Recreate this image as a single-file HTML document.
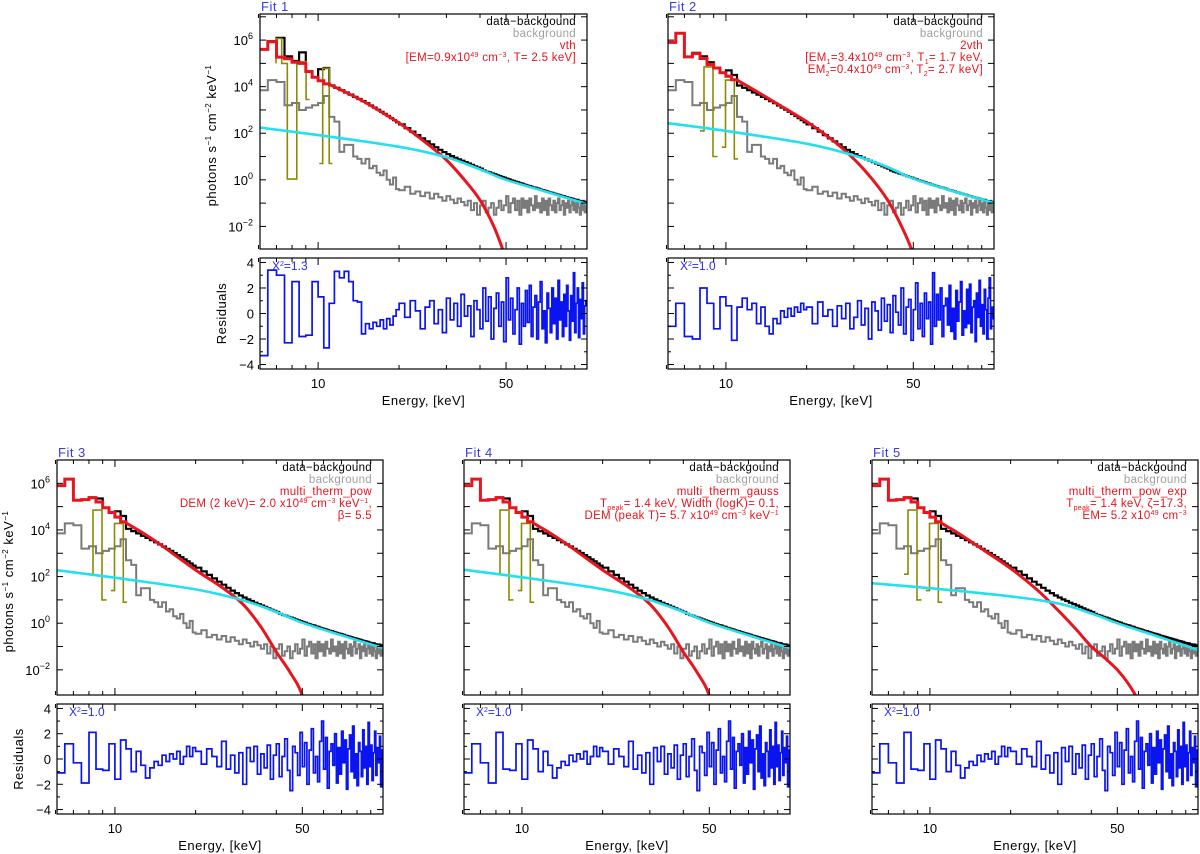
<!DOCTYPE html>
<html><head><meta charset="utf-8"><style>
html,body{margin:0;padding:0;background:#fff;}
svg{display:block;font-family:"Liberation Sans",sans-serif;}
</style></head><body>
<svg id="fig" width="1200" height="854" viewBox="0 0 1200 854" xmlns="http://www.w3.org/2000/svg"></svg>
<script>
// ---- shared energy bin edges (keV) ----
const edges = [6,6.5,7,7.5,8,8.5,9,9.5,10,10.5,11,11.5,12,12.5,13,13.5,14,14.5,15,15.5,16,16.5,17,17.5,18,18.5,19,19.5,20,
21,22,23,24,25,26,27,28,29,30,31,32,33,34,35,36,37,38,39,40,41,42,43,44,45,46,47,48,49,50,
51,52,53,54,55,56,57,58,59,60,61,62,63,64,65,66,67,68,69,70,71,72,73,74,75,76,77,78,79,80,
81,82,83,84,85,86,87,88,89,90,91,92,93,94,95,96,97,98,99,100];
// ---- data-background (log10) above 11 keV, shared ----
const dataHigh = [4.05,3.95,3.85,3.75,3.66,3.56,3.47,3.38,3.29,3.19,3.1,3.01,2.92,2.83,2.74,2.65,2.56,2.47,
2.38,2.22,2.07,1.92,1.78,1.65,1.52,1.4,1.29,1.19,1.1,1.02,0.95,0.88,0.82,0.76,0.7,0.64,0.58,0.53,0.48,
0.40,0.35,0.32,0.27,0.24,0.2,0.16,0.12,0.09,0.05,0.02,-0.02,-0.05,-0.08,-0.1,-0.14,-0.16,-0.2,-0.22,-0.25,
-0.27,-0.3,-0.33,-0.34,-0.37,-0.39,-0.42,-0.44,-0.46,-0.48,-0.5,-0.53,-0.55,-0.56,-0.59,-0.6,-0.63,-0.64,-0.66,-0.68,
-0.7,-0.71,-0.74,-0.75,-0.77,-0.78,-0.8,-0.81,-0.84,-0.85,-0.87,-0.86,-0.9,-0.91,-0.93,-0.92,-0.96,-0.95,-0.98];
// ---- background (log10), shared ----
const bgLog = [3.85,4.28,4.2,3.2,3.3,3.0,3.1,3.2,3.3,3.6,2.7,2.5,1.2,1.5,1.5,1.0,0.9,0.7,0.9,0.5,0.6,0.3,0.2,0.4,0.0,-0.2,0.1,-0.4,
-0.45,-0.3,-0.6,-0.5,-0.7,-0.55,-0.8,-0.6,-0.75,-0.9,-0.7,-0.85,-1.0,-0.8,-0.95,-1.1,-0.9,-1.3,-1.0,-1.5,
-1.1,-0.9,-1.4,-1.2,-1.0,-1.5,-1.2,-0.9,-1.3,-1.1,-0.7,-1.4,-1.0,-0.8,-1.3,-0.9,-1.5,-0.8,-1.2,-0.9,
-1.4,-0.8,-1.1,-1.3,-0.7,-1.2,-1.0,-1.4,-0.8,-1.3,-0.9,-1.5,-0.8,-1.1,-1.3,-0.9,-1.4,-1.0,-0.8,-1.3,
-1.1,-0.9,-1.5,-1.0,-1.2,-0.9,-1.4,-1.1,-0.8,-1.3,-1.0,-1.4,-0.9,-1.2,-1.5,-1.0,-1.3,-0.9,-1.4,-1.1];
// ---- low-energy (6-11 keV) steps per fit ----
const redLow1 = [5.6,5.93,5.27,5.2,5.05,5.0,4.65,4.4,4.25,4.12];
const dataLow1 = [5.6,5.95,6.1,5.3,5.1,5.47,4.65,4.4,4.75,4.8];
const redLow2 = [5.9,6.29,5.28,5.42,5.21,4.95,4.8,4.6,4.45,4.3];
const dataLow2 = [5.9,6.29,5.28,5.45,5.3,5.05,4.8,4.6,4.7,4.5];
const redLow3 = [5.9,6.18,5.27,5.3,5.38,5.2,4.95,4.75,4.55,4.35];
const dataLow3 = [5.9,6.18,5.27,5.3,5.4,5.35,4.95,4.75,4.8,4.6];
// ---- thermal model (red) continuum ----
const redE = [11,13,15,20,25,30,35,40,45,50,55,60];
const red1 = [4.1,3.7,3.32,2.44,1.62,0.85,0.0,-0.87,-2.0,-3.4,-5,-6];
const red2 = [4.28,3.8,3.37,2.5,1.7,0.9,0.05,-0.85,-1.95,-3.2,-5,-6];
const red3 = [4.3,3.8,3.32,2.28,1.55,0.82,-0.15,-1.23,-2.1,-3.1,-5,-6];
const red5 = [4.3,3.8,3.32,2.35,1.45,0.56,-0.25,-1.0,-1.5,-2.0,-2.6,-3.3];
// ---- non-thermal (cyan) ----
const cyanE = [6,10,20,30,40,50,70,100];
const cyan1 = [2.25,1.92,1.42,0.97,0.45,0.0,-0.5,-1.04];
const cyan2 = [2.44,2.1,1.55,1.05,0.55,0.05,-0.48,-1.0];
const cyan3 = [2.28,1.95,1.45,0.98,0.48,0.02,-0.52,-1.07];
const cyan4 = [2.3,1.97,1.46,0.99,0.48,0.02,-0.52,-1.07];
const cyan5 = [1.72,1.5,1.15,0.85,0.42,0.0,-0.55,-1.15];
// ---- line components (olive) [E, log10] ----
const olive1 = [[[6.97,5.0],[6.97,6.07],[7.32,6.07],[7.32,5.0],[7.68,5.0],[7.68,0.03],[8.33,0.03],[8.33,5.07],[9.02,5.07],[9.02,3.45],[9.3,3.45]],
                [[10.1,0.7],[10.4,0.7],[10.4,4.79],[11.0,4.79],[11.0,0.7],[11.3,0.7]]];
const oliveB = [[[8.0,2.1],[8.28,2.1],[8.28,4.85],[8.95,4.85],[8.95,1.0],[9.3,1.0]],
                [[9.65,1.4],[9.96,1.4],[9.96,4.28],[10.75,4.28],[10.75,0.9],[11.1,0.9]]];
// ---- residuals ----
const res1 = [-3.3,3.4,3.0,-2.3,2.5,-1.8,-1.7,2.5,1.3,-2.7,0.8,3.3,2.8,3.3,2.5,1.0,0.9,-1.6,-0.8,-1.2,-0.7,-1.0,-0.5,-1.2,-0.4,-0.9,-0.2,0.3,
0.8,-0.3,1.0,0.2,-1.2,0.5,1.0,-0.8,0.3,-1.5,1.2,-0.5,0.8,-1.0,1.5,-0.2,0.6,-1.8,1.0,0.3,
-1.2,2.0,-0.6,1.3,-2.0,0.4,1.6,-1.0,0.9,-2.2,2.8,-0.5,1.2,-1.6,0.3,2.0,-2.4,0.8,-1.0,1.8,
-0.7,2.2,-1.8,0.5,1.4,-2.0,0.9,2.5,-1.2,0.2,-2.3,1.6,0.4,-1.5,2.0,-0.8,1.2,-2.0,2.6,-0.5,
0.9,-1.8,1.5,-1.0,2.2,0.2,-2.1,1.4,-0.6,3.2,-1.5,0.8,2.0,-1.9,1.1,-0.4,2.4,-1.6,0.6,1.0];
const res2 = [-1.0,0.8,-1.8,-2.0,2.0,0.8,-1.2,1.3,0.6,-2.1,0.5,1.2,0.3,0.8,-0.8,0.5,-1.0,-1.6,-0.4,-0.8,0.2,-0.3,0.4,-0.2,0.5,0.1,0.8,0.3,
0.5,-0.8,0.9,-0.2,0.3,-1.0,0.6,-0.4,0.8,-1.2,-0.3,1.0,-0.9,0.4,-2.0,0.9,0.2,-1.3,1.2,-0.6,
0.7,-1.5,1.4,0.1,-0.9,2.0,-1.6,0.5,1.1,-2.1,0.3,2.4,-1.2,0.8,-1.8,1.6,-0.4,0.9,-2.4,3.2,
-1.0,1.5,-0.5,2.0,-1.8,0.6,1.2,-0.9,2.2,-1.4,0.4,-2.0,1.8,-0.6,0.9,2.5,-1.7,0.2,-1.1,1.9,
-0.8,2.3,-1.5,0.5,1.0,-2.2,1.6,-0.3,2.6,-1.0,0.7,-1.6,1.9,0.3,-2.0,1.2,2.8,-1.2,0.5,-0.4];
const res3 = [-1.1,1.2,-0.3,-1.9,2.1,-0.8,-0.9,1.2,-1.6,1.5,0.8,-1.0,0.6,-0.5,-1.5,-0.7,-0.2,-0.5,0.3,-0.2,0.4,0.0,0.6,-0.4,0.2,1.0,0.2,0.9,
0.6,-0.4,0.8,0.2,-0.6,1.4,-0.8,0.3,-1.1,0.5,-2.0,0.9,-0.2,1.0,-1.2,0.4,-0.7,1.1,-1.6,0.3,
1.2,-1.4,0.2,1.6,-0.9,-2.5,1.0,0.5,-1.3,2.1,-0.6,1.3,-2.0,0.7,2.4,-1.1,0.2,-1.8,1.4,3.0,
-0.8,1.7,-2.3,0.6,1.2,-0.5,2.0,-1.9,0.9,-1.2,2.2,-0.3,1.5,-2.4,0.8,1.9,-1.0,2.6,-1.5,0.4,
-2.1,1.3,0.6,-1.4,2.3,-0.7,1.0,-2.0,2.9,-0.6,1.1,-1.7,0.5,2.2,-1.3,0.9,-0.3,1.8,-2.2,0.7];
const chiLabels = ["1.3","1.0","1.0","1.0","1.0"];
const xTickMajor = [10,50];
const xTickMinor = [6,7,8,9,20,30,40,60,70,80,90];

const NS = "http://www.w3.org/2000/svg";
const svg = document.getElementById('fig');
function el(tag, attrs, parent){const e=document.createElementNS(NS,tag);for(const k in attrs)e.setAttribute(k,attrs[k]);(parent||svg).appendChild(e);return e;}

const panels = [
 {id:1,x0:260,x1:587,sy0:14,sy1:249,ry0:258,ry1:369,ymax:7.12,ymin:-2.97,lab:true,redLow:redLow1,dataLow:dataLow1,red:red1,cyan:cyan1,olive:olive1,res:res1,
  legend:[["data−backgound","#000"],["background","#a0a0a0"],["vth","#e8141e"],["[EM=0.9x10<tspan font-size='7' dy='-4'>49</tspan><tspan dy='4'> cm</tspan><tspan font-size='7' dy='-4'>−3</tspan><tspan dy='4'>, T= 2.5 keV]</tspan>","#e8141e"]]},
 {id:2,x0:668,x1:994,sy0:14,sy1:249,ry0:258,ry1:369,ymax:7.12,ymin:-2.97,lab:false,redLow:redLow2,dataLow:dataLow2,red:red2,cyan:cyan2,olive:oliveB,res:res2,
  legend:[["data−backgound","#000"],["background","#a0a0a0"],["2vth","#e8141e"],["[EM<tspan font-size='7' dy='3'>1</tspan><tspan dy='-3'>=3.4x10</tspan><tspan font-size='7' dy='-4'>49</tspan><tspan dy='4'> cm</tspan><tspan font-size='7' dy='-4'>−3</tspan><tspan dy='4'>, T</tspan><tspan font-size='7' dy='3'>1</tspan><tspan dy='-3'>= 1.7 keV,</tspan>","#e8141e"],["EM<tspan font-size='7' dy='3'>2</tspan><tspan dy='-3'>=0.4x10</tspan><tspan font-size='7' dy='-4'>49</tspan><tspan dy='4'> cm</tspan><tspan font-size='7' dy='-4'>−3</tspan><tspan dy='4'>, T</tspan><tspan font-size='7' dy='3'>2</tspan><tspan dy='-3'>= 2.7 keV]</tspan>","#e8141e"]]},
 {id:3,x0:57,x1:383,sy0:460,sy1:695,ry0:704,ry1:814,ymax:7.0,ymin:-3.08,lab:true,redLow:redLow3,dataLow:dataLow3,red:red3,cyan:cyan3,olive:oliveB,res:res3,
  legend:[["data−backgound","#000"],["background","#a0a0a0"],["multi_therm_pow","#e8141e"],["DEM (2 keV)= 2.0 x10<tspan font-size='7' dy='-4'>49</tspan><tspan dy='4'> cm</tspan><tspan font-size='7' dy='-4'>−3</tspan><tspan dy='4'> keV</tspan><tspan font-size='7' dy='-4'>−1</tspan><tspan dy='4'>,</tspan>","#e8141e"],["β= 5.5","#e8141e"]]},
 {id:4,x0:464,x1:790,sy0:460,sy1:695,ry0:704,ry1:814,ymax:7.0,ymin:-3.08,lab:false,redLow:redLow3,dataLow:dataLow3,red:red3,cyan:cyan4,olive:oliveB,res:res3,
  legend:[["data−backgound","#000"],["background","#a0a0a0"],["multi_therm_gauss","#e8141e"],["T<tspan font-size='7' dy='3'>peak</tspan><tspan dy='-3'>= 1.4 keV, Width (logK)= 0.1,</tspan>","#e8141e"],["DEM (peak T)=  5.7 x10<tspan font-size='7' dy='-4'>49</tspan><tspan dy='4'> cm</tspan><tspan font-size='7' dy='-4'>−3</tspan><tspan dy='4'>  keV</tspan><tspan font-size='7' dy='-4'>−1</tspan>","#e8141e"]]},
 {id:5,x0:872,x1:1198,sy0:460,sy1:695,ry0:704,ry1:814,ymax:7.0,ymin:-3.08,lab:false,redLow:redLow3,dataLow:dataLow3,red:red5,cyan:cyan5,olive:oliveB,res:res3,
  legend:[["data−backgound","#000"],["background","#a0a0a0"],["multi_therm_pow_exp","#e8141e"],["T<tspan font-size='7' dy='3'>peak</tspan><tspan dy='-3'>= 1.4 keV, ζ=17.3,</tspan>","#e8141e"],["EM=  5.2 x10<tspan font-size='7' dy='-4'>49</tspan><tspan dy='4'> cm</tspan><tspan font-size='7' dy='-4'>−3</tspan>","#e8141e"]]}
];
const LMIN = Math.log10(6.08), LMAX = 2.0, RMAX = 4.35, RMIN = -4.35;

// smooth curve through points (Catmull-Rom -> cubic Bezier)
function smooth(pts){
  let d = '';
  for (let i = 0; i < pts.length - 1; i++) {
    const p0 = pts[Math.max(0, i - 1)], p1 = pts[i], p2 = pts[i + 1], p3 = pts[Math.min(pts.length - 1, i + 2)];
    const c1 = [p1[0] + (p2[0] - p0[0]) / 6, p1[1] + (p2[1] - p0[1]) / 6];
    const c2 = [p2[0] - (p3[0] - p1[0]) / 6, p2[1] - (p3[1] - p1[1]) / 6];
    d += 'C' + c1[0].toFixed(1) + ',' + c1[1].toFixed(1) + ' ' + c2[0].toFixed(1) + ',' + c2[1].toFixed(1) + ' ' + p2[0].toFixed(1) + ',' + p2[1].toFixed(1);
  }
  return d;
}

panels.forEach(p => {
  const g = el('g', {});
  
  
  const X = e => p.x0 + (Math.log10(e) - LMIN) / (LMAX - LMIN) * (p.x1 - p.x0);
  const Y = v => p.sy0 + (p.ymax - v) / (p.ymax - p.ymin) * (p.sy1 - p.sy0);
  const R = r => p.ry0 + (RMAX - r) / (RMAX - RMIN) * (p.ry1 - p.ry0);
  const defs = el('defs', {}, g);
  const cp = el('clipPath', {id: 'cs' + p.id}, defs);
  el('rect', {x: p.x0, y: p.sy0, width: p.x1 - p.x0, height: p.sy1 - p.sy0}, cp);
  const cr = el('clipPath', {id: 'cr' + p.id}, defs);
  el('rect', {x: p.x0, y: p.ry0, width: p.x1 - p.x0, height: p.ry1 - p.ry0}, cr);

  const step = (vals, yf) => {
    let d = 'M' + X(edges[0]).toFixed(1) + ',' + yf(vals[0]).toFixed(1);
    for (let i = 0; i < vals.length; i++) {
      if (i > 0) d += 'V' + yf(vals[i]).toFixed(1);
      d += 'H' + X(edges[i + 1]).toFixed(1);
    }
    return d;
  };
  const sg = el('g', {'clip-path': 'url(#cs' + p.id + ')'}, g);
  const bg = el('path', {d: step(bgLog, Y), fill: 'none', stroke: '#7a7a7a', 'stroke-width': 2}, sg);
  
  
  const dat = el('path', {d: step(p.dataLow.concat(dataHigh), Y), fill: 'none', stroke: '#000', 'stroke-width': 2.2}, sg);
  
  
  p.olive.forEach(seg => {
    const d = seg.map((pt, i) => (i ? 'L' : 'M') + X(pt[0]).toFixed(1) + ',' + Y(pt[1]).toFixed(1)).join('');
    const o = el('path', {d: d, fill: 'none', stroke: '#8c8a00', 'stroke-width': 1.6}, sg);
    
    
  });
  let rd = 'M' + X(edges[0]).toFixed(1) + ',' + Y(p.redLow[0]).toFixed(1);
  for (let i = 0; i < p.redLow.length; i++) {
    if (i > 0) rd += 'V' + Y(p.redLow[i]).toFixed(1);
    rd += 'H' + X(edges[i + 1]).toFixed(1);
  }
  const rpts = redE.map((e, i) => [X(e), Y(p.red[i])]);
  rd += 'L' + rpts[0][0].toFixed(1) + ',' + rpts[0][1].toFixed(1) + smooth(rpts);
  const rp = el('path', {d: rd, fill: 'none', stroke: '#e8141e', 'stroke-width': 3}, sg);
  
  
  const cpts = cyanE.map((e, i) => [X(e), Y(p.cyan[i])]);
  const cd = 'M' + cpts[0][0].toFixed(1) + ',' + cpts[0][1].toFixed(1) + smooth(cpts);
  const cpth = el('path', {d: cd, fill: 'none', stroke: '#22e0ee', 'stroke-width': 2.6}, sg);
  
  
  const rg = el('g', {'clip-path': 'url(#cr' + p.id + ')'}, g);
  const resp = el('path', {d: step(p.res, R), fill: 'none', stroke: '#0a14f0', 'stroke-width': 1.7}, rg);
  
  

  [[p.sy0, p.sy1], [p.ry0, p.ry1]].forEach(([a, b]) => {
    el('rect', {x: p.x0, y: a, width: p.x1 - p.x0, height: b - a, fill: 'none', stroke: '#000', 'stroke-width': 1.2}, g);
  });
  [[p.sy0, p.sy1], [p.ry0, p.ry1]].forEach(([a, b]) => {
    xTickMajor.concat(xTickMinor).forEach(t => {
      const L = xTickMajor.includes(t) ? 7 : 4; const x = X(t);
      el('line', {x1: x, x2: x, y1: b, y2: b - L, stroke: '#000', 'stroke-width': 1}, g);
      el('line', {x1: x, x2: x, y1: a, y2: a + L, stroke: '#000', 'stroke-width': 1}, g);
    });
  });
  for (let k = -2; k <= 7; k++) {
    const y = Y(k); if (y < p.sy0 + 1 || y > p.sy1 - 1) continue;
    el('line', {x1: p.x0, x2: p.x0 + 6, y1: y, y2: y, stroke: '#000', 'stroke-width': 1}, g);
    el('line', {x1: p.x1, x2: p.x1 - 6, y1: y, y2: y, stroke: '#000', 'stroke-width': 1}, g);
    if (p.lab && k % 2 === 0) {
      const t = el('text', {x: p.x0 - 7, y: y + 5, 'text-anchor': 'end', 'font-size': 13, fill: '#000'}, g);
      t.innerHTML = "10<tspan font-size='9' dy='-6'>" + (k < 0 ? '−' + (-k) : k) + "</tspan>";
      
      
    }
  }
  for (let k = -4; k <= 4; k++) {
    const y = R(k); const L = k % 2 === 0 ? 6 : 3;
    el('line', {x1: p.x0, x2: p.x0 + L, y1: y, y2: y, stroke: '#000', 'stroke-width': 1}, g);
    el('line', {x1: p.x1, x2: p.x1 - L, y1: y, y2: y, stroke: '#000', 'stroke-width': 1}, g);
    if (p.lab && k % 2 === 0) {
      const t = el('text', {x: p.x0 - 6, y: y + 5, 'text-anchor': 'end', 'font-size': 13, fill: '#000'}, g);
      t.textContent = k < 0 ? '−' + (-k) : String(k);
      
      
    }
  }
  xTickMajor.forEach(t => {
    const tx = el('text', {x: X(t), y: p.ry1 + 19, 'text-anchor': 'middle', 'font-size': 13, fill: '#000'}, g);
    tx.textContent = String(t);
    
    
  });
  const xt = el('text', {x: (p.x0 + p.x1) / 2, y: p.ry1 + 36, 'text-anchor': 'middle', 'font-size': 13, fill: '#000', 'letter-spacing': '0.5'}, g);
  xt.textContent = 'Energy, [keV]';
  
  
  if (p.lab) {
    const cy = (p.sy0 + p.sy1) / 2 + 4, cx = p.x0 - 44;
    const yt = el('text', {x: cx, y: cy, 'text-anchor': 'middle', 'font-size': 13, fill: '#000', transform: 'rotate(-90 ' + cx + ' ' + cy + ')', 'letter-spacing': '0.5'}, g);
    yt.innerHTML = "photons s<tspan font-size='8' dy='-5'>−1</tspan><tspan dy='5'> cm</tspan><tspan font-size='8' dy='-5'>−2</tspan><tspan dy='5'> keV</tspan><tspan font-size='8' dy='-5'>−1</tspan>";
    
    
    const ry = (p.ry0 + p.ry1) / 2, rx = p.x0 - 34;
    const rt = el('text', {x: rx, y: ry, 'text-anchor': 'middle', 'font-size': 13, fill: '#000', transform: 'rotate(-90 ' + rx + ' ' + ry + ')', 'letter-spacing': '0.5'}, g);
    rt.textContent = 'Residuals';
    
    
  }
  const ft = el('text', {x: p.x0 + 1, y: p.sy0 - 3, 'font-size': 13, fill: '#3a3ae0', 'letter-spacing': '0.5'}, g);
  ft.textContent = 'Fit  ' + p.id;
  
  
  p.legend.forEach((L, i) => {
    const t = el('text', {x: p.x1 - 11, y: p.sy0 + 11 + 12 * i, 'text-anchor': 'end', 'font-size': 11.5, fill: L[1], 'letter-spacing': '0.3'}, g);
    t.innerHTML = L[0];
    
    
  });
  const ch = el('text', {x: p.x0 + 12, y: p.ry0 + 12, 'font-size': 12, fill: '#2a2ae8'}, g);
  ch.innerHTML = "X<tspan font-size='7' dy='-4'>2</tspan><tspan dy='4'>=" + chiLabels[p.id - 1] + "</tspan>";
  
  
});
</script>
</body></html>
